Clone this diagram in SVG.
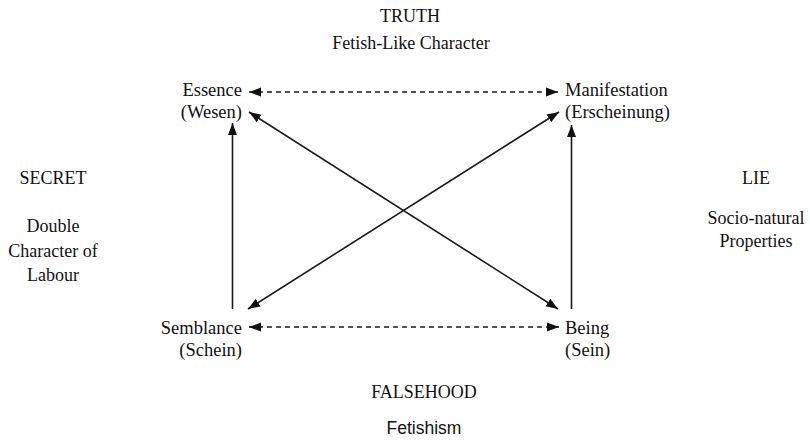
<svg xmlns="http://www.w3.org/2000/svg" width="810" height="440" viewBox="0 0 810 440">
<style>
text{font-family:"Liberation Serif","Times New Roman",serif;font-size:18px;fill:#111;text-anchor:middle}
.sans{font-family:"Liberation Sans",Arial,sans-serif;font-size:17.5px}
.nl{font-size:18.5px;text-anchor:end}
.nr{font-size:18.5px;text-anchor:start}
.ln{stroke:#1a1a1a;stroke-width:1.6;fill:none}
.dash{stroke-dasharray:5 4}
</style>
<defs>
<marker id="ah" viewBox="0 0 12 10" refX="12" refY="5" markerWidth="12" markerHeight="10" markerUnits="userSpaceOnUse" orient="auto-start-reverse">
<path d="M0,0.5 L12,5 L0,9.5 Z" fill="#111"/>
</marker>
</defs>
<rect width="810" height="440" fill="#fff"/>
<g id="labels">
<text x="410" y="22">TRUTH</text>
<text x="411" y="49">Fetish-Like Character</text>
<text x="53" y="184">SECRET</text>
<text x="53" y="232">Double</text>
<text x="53" y="257">Character of</text>
<text x="53" y="281">Labour</text>
<text x="756" y="184">LIE</text>
<text x="756" y="224">Socio-natural</text>
<text x="756" y="247">Properties</text>
<text x="424" y="398">FALSEHOOD</text>
<text x="424" y="434" class="sans">Fetishism</text>
</g>
<g id="essence"><text class="nl" x="242" y="96">Essence</text><text class="nl" x="242" y="118">(Wesen)</text></g>
<g id="manifestation"><text class="nr" x="565" y="96">Manifestation</text><text class="nr" x="565" y="118">(Erscheinung)</text></g>
<g id="semblance"><text class="nl" x="242" y="334">Semblance</text><text class="nl" x="242" y="356">(Schein)</text></g>
<g id="being"><text class="nr" x="565" y="334">Being</text><text class="nr" x="565" y="356">(Sein)</text></g>
<g id="connectors">
<line class="ln dash" x1="249" y1="92" x2="558" y2="92" marker-start="url(#ah)" marker-end="url(#ah)"/>
<line class="ln dash" x1="249" y1="327" x2="559" y2="327" marker-start="url(#ah)" marker-end="url(#ah)"/>
<line class="ln" x1="232.5" y1="309" x2="232.5" y2="123" marker-end="url(#ah)"/>
<line class="ln" x1="571.5" y1="309" x2="571.5" y2="125" marker-end="url(#ah)"/>
<line class="ln" x1="249" y1="112" x2="558" y2="309" marker-start="url(#ah)" marker-end="url(#ah)"/>
<line class="ln" x1="559" y1="112" x2="248" y2="309" marker-start="url(#ah)" marker-end="url(#ah)"/>
</g>
</svg>
